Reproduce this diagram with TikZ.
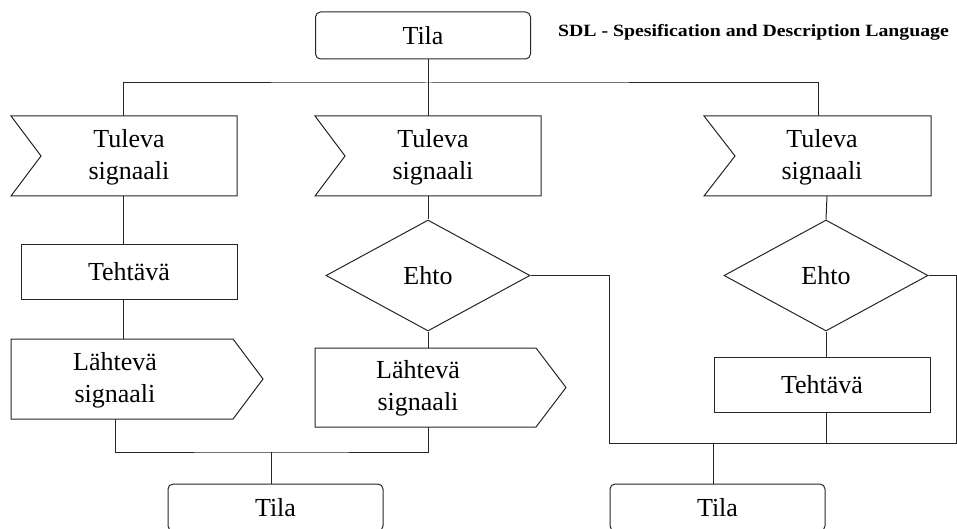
\documentclass[tikz,border=0pt]{standalone}
\usepackage{fontspec}
\setmainfont{Liberation Serif}
\newfontfamily\titlefont[FakeStretch=1.15]{Liberation Serif}
\usetikzlibrary{shapes.geometric}
\begin{document}
\begin{tikzpicture}[x=1pt,y=-1pt,
  txt/.style={font=\fontsize{26}{32}\selectfont,align=center,inner sep=0pt},
  tilabox/.style={draw=black!85,line width=1pt,rounded corners=5pt,minimum width=215pt,minimum height=47pt,inner sep=0pt,font=\fontsize{26}{32}\selectfont},
  taskbox/.style={draw=black!85,line width=1pt,rectangle,minimum width=216pt,minimum height=55pt,inner sep=0pt,font=\fontsize{26}{32}\selectfont},
  condbox/.style={draw=black!85,line width=1pt,diamond,minimum width=204pt,minimum height=111pt,inner sep=0pt,font=\fontsize{26}{32}\selectfont},
  shapeline/.style={line width=1pt,draw=black!85,line join=miter},
  conn/.style={line width=1pt,draw=black!85}]
\useasboundingbox (0,0) rectangle (957,529);

% title
\node[anchor=base west,inner sep=0pt,font=\titlefont\fontsize{17.2}{20}\selectfont\bfseries] (title) at (558,37) {SDL - Spesification and Description Language};

% states
\node[tilabox] (t0) at (423,35.5) {Tila};
\node[tilabox] (t1) at (275.5,507.5) {Tila};
\node[tilabox] (t2) at (717.5,507.5) {Tila};

% incoming signals
\draw[shapeline] (11,116) -- (237,116) -- (237,196) -- (11,196) -- (41,156) -- cycle;
\draw[shapeline] (315,116) -- (541,116) -- (541,196) -- (315,196) -- (345,156) -- cycle;
\draw[shapeline] (704,116) -- (931,116) -- (931,196) -- (704,196) -- (735,156) -- cycle;
\node[txt] (s1) at (129,157) {Tuleva\\signaali};
\node[txt] (s2) at (433,157) {Tuleva\\signaali};
\node[txt] (s3) at (822,157) {Tuleva\\signaali};
\coordinate (s1top) at (123,116);
\coordinate (s1bot) at (123,196);
\coordinate (s2top) at (428,116);
\coordinate (s2bot) at (428,196);
\coordinate (s3top) at (818,116);
\coordinate (s3bot) at (827,196);

% tasks
\node[taskbox] (task1) at (129,271.5) {Tehtävä};
\node[taskbox] (task2) at (822,384.5) {Tehtävä};

% conditions
\node[condbox] (c1) at (428,275.5) {Ehto};
\node[condbox] (c2) at (826,275.5) {Ehto};

% outgoing signals
\draw[shapeline] (11,339) -- (233,339) -- (263,379) -- (233,419) -- (11,419) -- cycle;
\draw[shapeline] (315,348) -- (536,348) -- (566,387.5) -- (536,427) -- (315,427) -- cycle;
\node[txt] (o1) at (115,380) {Lähtevä\\signaali};
\node[txt] (o2) at (418,388) {Lähtevä\\signaali};
\coordinate (o1top) at (123,339);
\coordinate (o1bot) at (115,419);
\coordinate (o2top) at (428,348);
\coordinate (o2bot) at (428,427);

% junction points
\coordinate (jtop) at (428,83);
\coordinate (jl) at (271,452);
\coordinate (jr) at (713,443);
\coordinate (rc) at (609,443);
\coordinate (rr) at (956,443);

% connectors
\draw[conn] (t0.south -| jtop) -- (s2top);
\draw[conn] (s1top) |- (jtop) -| (s3top);
\draw[conn] (s1bot) -- (s1bot |- task1.north);
\draw[conn] (s1bot |- task1.south) -- (o1top);
\draw[conn] (s2bot) -- (c1.north);
\draw[conn] (c1.south) -- (o2top);
\draw[conn] (o1bot) |- (jl) -| (o2bot);
\draw[conn] (jl) -- (jl |- t1.north);
\draw[conn] (s3bot) -- (c2.north);
\draw[conn] (c2.south) -- (c2.south |- task2.north);
\draw[conn] (c2.south |- task2.south) -- (c2.south |- rc);
\draw[conn] (c1.east) -| (rc) -- (rr) |- (c2.east);
\draw[conn] (jr) -- (jr |- t2.north);
\end{tikzpicture}
\end{document}
